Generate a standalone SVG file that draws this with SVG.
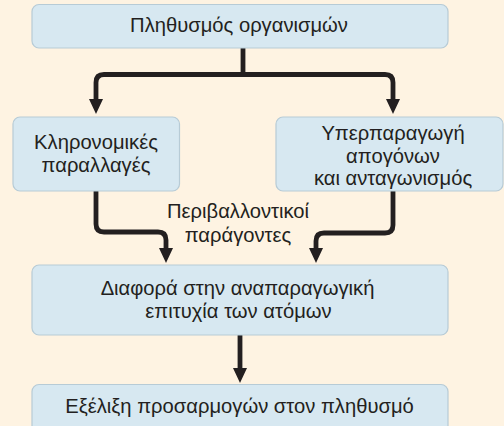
<svg xmlns="http://www.w3.org/2000/svg" width="504" height="426" viewBox="0 0 504 426">
<style>
.box{fill:#D7E8F1;stroke:#B7CBD6;stroke-width:1.2}
.t{font-family:"Liberation Sans",Arial,sans-serif;font-size:20.2px;fill:#231F20;text-anchor:middle}
.c{fill:none;stroke:#231F20;stroke-width:4.8}
</style>
<defs>
<marker id="ah" viewBox="0 0 15 14" refX="7" refY="7" markerWidth="15" markerHeight="14" markerUnits="userSpaceOnUse" orient="auto">
<path d="M0,0 L15,7 L0,14 z" fill="#231F20"/>
</marker>
</defs>
<rect width="504" height="426" fill="#FEF3E2"/>
<g id="connectors">
<path class="c" d="M243,48 V74.5"/>
<path class="c" d="M243,74.5 H104 Q96,74.5 96,82.5 V106" marker-end="url(#ah)"/>
<path class="c" d="M243,74.5 H385 Q393,74.5 393,82.5 V106" marker-end="url(#ah)"/>
<path class="c" d="M96,191 V224 Q96,232 104,232 H158 Q166,232 166,240 V255" marker-end="url(#ah)"/>
<path class="c" d="M393,191 V225 Q393,233 385,233 H324 Q316,233 316,241 V255" marker-end="url(#ah)"/>
<path class="c" d="M240,335 V375" marker-end="url(#ah)"/>
</g>
<g id="n1">
<rect class="box" x="32" y="4.5" width="416" height="43.5" rx="7"/>
<text class="t" x="239" y="32.3">Πληθυσμός οργανισμών</text>
</g>
<g id="n2">
<rect class="box" x="13" y="117" width="166.5" height="74" rx="7"/>
<text class="t" x="96" y="149">Κληρονομικές</text>
<text class="t" x="96" y="171.5">παραλλαγές</text>
</g>
<g id="n3">
<rect class="box" x="276" y="117" width="227" height="74" rx="7"/>
<text class="t" x="393" y="140">Υπερπαραγωγή</text>
<text class="t" x="393" y="162.5">απογόνων</text>
<text class="t" x="393" y="185">και ανταγωνισμός</text>
</g>
<g id="label">
<text class="t" x="238" y="218">Περιβαλλοντικοί</text>
<text class="t" x="238" y="241.5">παράγοντες</text>
</g>
<g id="n4">
<rect class="box" x="32" y="265" width="416" height="70" rx="7"/>
<text class="t" x="237.5" y="294.7">Διαφορά στην αναπαραγωγική</text>
<text class="t" x="238.5" y="318">επιτυχία των ατόμων</text>
</g>
<g id="n5">
<rect class="box" x="32" y="384.5" width="416" height="50" rx="7"/>
<text class="t" x="239.5" y="413">Εξέλιξη προσαρμογών στον πληθυσμό</text>
</g>
</svg>
